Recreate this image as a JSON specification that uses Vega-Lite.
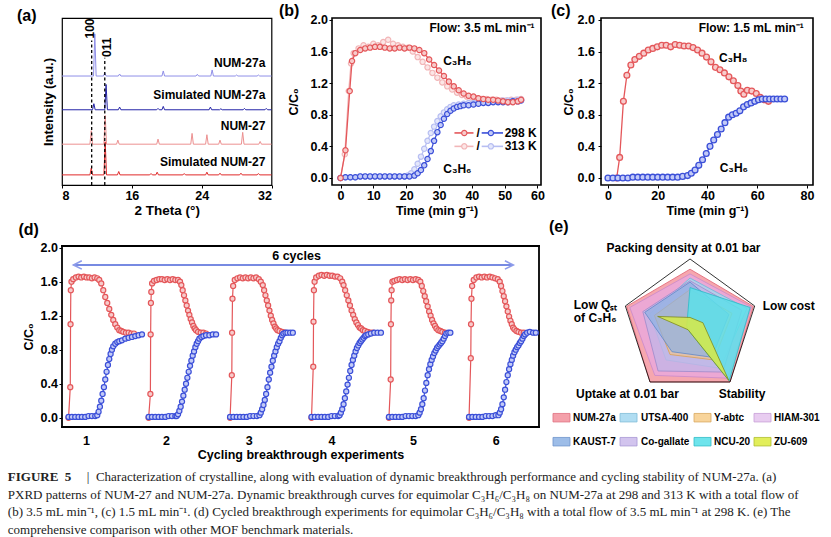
{
  "$schema": "https://vega.github.io/schema/vega-lite/v6.json",
  "background": "white",
  "padding": {"left": 7, "top": 2, "right": 0, "bottom": 0},
  "columns": 3,
  "bounds": "flush",
  "spacing": {"row": 61, "column": 60},
  "datasets": {
    "xrd": [
      {"pattern":"NUM-27a","theta":8,"intensity":323},{"pattern":"NUM-27a","theta":11.61,"intensity":323},{"pattern":"NUM-27a","theta":11.76,"intensity":448},{"pattern":"NUM-27a","theta":11.91,"intensity":323},
      {"pattern":"NUM-27a","theta":12.75,"intensity":323},{"pattern":"NUM-27a","theta":12.9,"intensity":333},{"pattern":"NUM-27a","theta":13.05,"intensity":323},
      {"pattern":"NUM-27a","theta":14.45,"intensity":323},{"pattern":"NUM-27a","theta":14.6,"intensity":329},{"pattern":"NUM-27a","theta":14.75,"intensity":323},
      {"pattern":"NUM-27a","theta":19.45,"intensity":323},{"pattern":"NUM-27a","theta":19.6,"intensity":338},{"pattern":"NUM-27a","theta":19.75,"intensity":323},
      {"pattern":"NUM-27a","theta":23.35,"intensity":323},{"pattern":"NUM-27a","theta":23.5,"intensity":328},{"pattern":"NUM-27a","theta":23.65,"intensity":323},
      {"pattern":"NUM-27a","theta":25.05,"intensity":323},{"pattern":"NUM-27a","theta":25.2,"intensity":341},{"pattern":"NUM-27a","theta":25.35,"intensity":323},
      {"pattern":"NUM-27a","theta":27.85,"intensity":323},{"pattern":"NUM-27a","theta":28,"intensity":326},{"pattern":"NUM-27a","theta":28.15,"intensity":323},
      {"pattern":"NUM-27a","theta":30.35,"intensity":323},{"pattern":"NUM-27a","theta":30.5,"intensity":326},{"pattern":"NUM-27a","theta":30.65,"intensity":323},
      {"pattern":"NUM-27a","theta":32,"intensity":323},
      {"pattern":"Simulated NUM-27a","theta":8,"intensity":223},{"pattern":"Simulated NUM-27a","theta":11.5,"intensity":223},{"pattern":"Simulated NUM-27a","theta":11.65,"intensity":241},{"pattern":"Simulated NUM-27a","theta":11.8,"intensity":223},
      {"pattern":"Simulated NUM-27a","theta":12.9,"intensity":223},{"pattern":"Simulated NUM-27a","theta":13.05,"intensity":298},{"pattern":"Simulated NUM-27a","theta":13.2,"intensity":223},
      {"pattern":"Simulated NUM-27a","theta":14.45,"intensity":223},{"pattern":"Simulated NUM-27a","theta":14.6,"intensity":231},{"pattern":"Simulated NUM-27a","theta":14.75,"intensity":223},
      {"pattern":"Simulated NUM-27a","theta":18.85,"intensity":223},{"pattern":"Simulated NUM-27a","theta":19,"intensity":227},{"pattern":"Simulated NUM-27a","theta":19.15,"intensity":223},
      {"pattern":"Simulated NUM-27a","theta":19.45,"intensity":223},{"pattern":"Simulated NUM-27a","theta":19.6,"intensity":233},{"pattern":"Simulated NUM-27a","theta":19.75,"intensity":223},
      {"pattern":"Simulated NUM-27a","theta":24.85,"intensity":223},{"pattern":"Simulated NUM-27a","theta":25,"intensity":231},{"pattern":"Simulated NUM-27a","theta":25.15,"intensity":223},
      {"pattern":"Simulated NUM-27a","theta":26.05,"intensity":223},{"pattern":"Simulated NUM-27a","theta":26.2,"intensity":226},{"pattern":"Simulated NUM-27a","theta":26.35,"intensity":223},
      {"pattern":"Simulated NUM-27a","theta":28.75,"intensity":223},{"pattern":"Simulated NUM-27a","theta":28.9,"intensity":227},{"pattern":"Simulated NUM-27a","theta":29.05,"intensity":223},
      {"pattern":"Simulated NUM-27a","theta":31.25,"intensity":223},{"pattern":"Simulated NUM-27a","theta":31.4,"intensity":227},{"pattern":"Simulated NUM-27a","theta":31.55,"intensity":223},
      {"pattern":"Simulated NUM-27a","theta":32,"intensity":223},
      {"pattern":"NUM-27","theta":8,"intensity":121},{"pattern":"NUM-27","theta":11.2,"intensity":121},{"pattern":"NUM-27","theta":11.35,"intensity":161},{"pattern":"NUM-27","theta":11.5,"intensity":121},
      {"pattern":"NUM-27","theta":12.8,"intensity":121},{"pattern":"NUM-27","theta":12.95,"intensity":206},{"pattern":"NUM-27","theta":13.1,"intensity":121},
      {"pattern":"NUM-27","theta":14.25,"intensity":121},{"pattern":"NUM-27","theta":14.4,"intensity":133},{"pattern":"NUM-27","theta":14.55,"intensity":121},
      {"pattern":"NUM-27","theta":18.85,"intensity":121},{"pattern":"NUM-27","theta":19,"intensity":136},{"pattern":"NUM-27","theta":19.15,"intensity":121},
      {"pattern":"NUM-27","theta":22.75,"intensity":121},{"pattern":"NUM-27","theta":22.9,"intensity":153},{"pattern":"NUM-27","theta":23.05,"intensity":121},
      {"pattern":"NUM-27","theta":24.45,"intensity":121},{"pattern":"NUM-27","theta":24.6,"intensity":149},{"pattern":"NUM-27","theta":24.75,"intensity":121},
      {"pattern":"NUM-27","theta":25.95,"intensity":121},{"pattern":"NUM-27","theta":26.1,"intensity":133},{"pattern":"NUM-27","theta":26.25,"intensity":121},
      {"pattern":"NUM-27","theta":28.55,"intensity":121},{"pattern":"NUM-27","theta":28.7,"intensity":156},{"pattern":"NUM-27","theta":28.85,"intensity":121},
      {"pattern":"NUM-27","theta":30.55,"intensity":121},{"pattern":"NUM-27","theta":30.7,"intensity":129},{"pattern":"NUM-27","theta":30.85,"intensity":121},
      {"pattern":"NUM-27","theta":32,"intensity":121},
      {"pattern":"Simulated NUM-27","theta":8,"intensity":30},{"pattern":"Simulated NUM-27","theta":11.2,"intensity":30},{"pattern":"Simulated NUM-27","theta":11.35,"intensity":50},{"pattern":"Simulated NUM-27","theta":11.5,"intensity":30},
      {"pattern":"Simulated NUM-27","theta":12.8,"intensity":30},{"pattern":"Simulated NUM-27","theta":12.95,"intensity":128},{"pattern":"Simulated NUM-27","theta":13.1,"intensity":30},
      {"pattern":"Simulated NUM-27","theta":14.35,"intensity":30},{"pattern":"Simulated NUM-27","theta":14.5,"intensity":40},{"pattern":"Simulated NUM-27","theta":14.65,"intensity":30},
      {"pattern":"Simulated NUM-27","theta":18.05,"intensity":30},{"pattern":"Simulated NUM-27","theta":18.2,"intensity":34},{"pattern":"Simulated NUM-27","theta":18.35,"intensity":30},
      {"pattern":"Simulated NUM-27","theta":18.75,"intensity":30},{"pattern":"Simulated NUM-27","theta":18.9,"intensity":38},{"pattern":"Simulated NUM-27","theta":19.05,"intensity":30},
      {"pattern":"Simulated NUM-27","theta":21.85,"intensity":30},{"pattern":"Simulated NUM-27","theta":22,"intensity":34},{"pattern":"Simulated NUM-27","theta":22.15,"intensity":30},
      {"pattern":"Simulated NUM-27","theta":24.45,"intensity":30},{"pattern":"Simulated NUM-27","theta":24.6,"intensity":38},{"pattern":"Simulated NUM-27","theta":24.75,"intensity":30},
      {"pattern":"Simulated NUM-27","theta":25.95,"intensity":30},{"pattern":"Simulated NUM-27","theta":26.1,"intensity":35},{"pattern":"Simulated NUM-27","theta":26.25,"intensity":30},
      {"pattern":"Simulated NUM-27","theta":28.35,"intensity":30},{"pattern":"Simulated NUM-27","theta":28.5,"intensity":35},{"pattern":"Simulated NUM-27","theta":28.65,"intensity":30},
      {"pattern":"Simulated NUM-27","theta":30.35,"intensity":30},{"pattern":"Simulated NUM-27","theta":30.5,"intensity":34},{"pattern":"Simulated NUM-27","theta":30.65,"intensity":30},
      {"pattern":"Simulated NUM-27","theta":32,"intensity":30}
    ],
    "xrdRef": [
      {"theta": 11.4, "intensity": 0, "top": 428},
      {"theta": 12.9, "intensity": 0, "top": 377}
    ],
    "hkl": [
      {"theta": 11.26, "intensity": 464, "label": "100"},
      {"theta": 13.14, "intensity": 408, "label": "011"}
    ],
    "xrdNames": [
      {"theta": 31.3, "intensity": 363, "label": "NUM-27a"},
      {"theta": 31.3, "intensity": 268, "label": "Simulated NUM-27a"},
      {"theta": 31.3, "intensity": 176, "label": "NUM-27"},
      {"theta": 31.3, "intensity": 68, "label": "Simulated NUM-27"}
    ],
    "flow35": [
      {"series":"C3H8-313","t":0,"c":0},{"series":"C3H8-313","t":1.3,"c":0.3},{"series":"C3H8-313","t":2.5,"c":1.1},{"series":"C3H8-313","t":3.2,"c":1.45},{"series":"C3H8-313","t":4,"c":1.58},{"series":"C3H8-313","t":5.5,"c":1.64},{"series":"C3H8-313","t":7,"c":1.68},{"series":"C3H8-313","t":8.5,"c":1.66},{"series":"C3H8-313","t":10,"c":1.7},{"series":"C3H8-313","t":11.5,"c":1.68},{"series":"C3H8-313","t":13,"c":1.72},{"series":"C3H8-313","t":14.5,"c":1.75},{"series":"C3H8-313","t":16,"c":1.7},{"series":"C3H8-313","t":17.5,"c":1.68},{"series":"C3H8-313","t":19,"c":1.66},{"series":"C3H8-313","t":20.5,"c":1.65},{"series":"C3H8-313","t":22,"c":1.6},{"series":"C3H8-313","t":23.5,"c":1.53},{"series":"C3H8-313","t":25,"c":1.47},{"series":"C3H8-313","t":26.5,"c":1.4},{"series":"C3H8-313","t":28,"c":1.33},{"series":"C3H8-313","t":29.5,"c":1.27},{"series":"C3H8-313","t":31,"c":1.21},{"series":"C3H8-313","t":32.5,"c":1.16},{"series":"C3H8-313","t":34,"c":1.12},{"series":"C3H8-313","t":35.5,"c":1.08},{"series":"C3H8-313","t":37,"c":1.05},{"series":"C3H8-313","t":38.5,"c":1.03},{"series":"C3H8-313","t":40,"c":1.02},{"series":"C3H8-313","t":41.5,"c":1.01},{"series":"C3H8-313","t":43,"c":1},{"series":"C3H8-313","t":44.5,"c":1},{"series":"C3H8-313","t":46,"c":0.99},{"series":"C3H8-313","t":47.5,"c":0.99},{"series":"C3H8-313","t":49,"c":0.98},{"series":"C3H8-313","t":50.5,"c":0.98},{"series":"C3H8-313","t":52,"c":0.99},{"series":"C3H8-313","t":53.5,"c":0.99},{"series":"C3H8-313","t":55,"c":1},
      {"series":"C3H6-313","t":0,"c":0},{"series":"C3H6-313","t":1.5,"c":0.01},{"series":"C3H6-313","t":3,"c":0.01},{"series":"C3H6-313","t":4.5,"c":0.01},{"series":"C3H6-313","t":6,"c":0.02},{"series":"C3H6-313","t":7.5,"c":0.02},{"series":"C3H6-313","t":9,"c":0.02},{"series":"C3H6-313","t":10.5,"c":0.02},{"series":"C3H6-313","t":12,"c":0.02},{"series":"C3H6-313","t":13.5,"c":0.02},{"series":"C3H6-313","t":15,"c":0.02},{"series":"C3H6-313","t":16.5,"c":0.02},{"series":"C3H6-313","t":18,"c":0.02},{"series":"C3H6-313","t":19.5,"c":0.02},{"series":"C3H6-313","t":20.5,"c":0.03},{"series":"C3H6-313","t":21.5,"c":0.06},{"series":"C3H6-313","t":22.5,"c":0.11},{"series":"C3H6-313","t":23.5,"c":0.18},{"series":"C3H6-313","t":24.5,"c":0.27},{"series":"C3H6-313","t":25.5,"c":0.37},{"series":"C3H6-313","t":26.5,"c":0.47},{"series":"C3H6-313","t":27.5,"c":0.57},{"series":"C3H6-313","t":28.5,"c":0.65},{"series":"C3H6-313","t":29.5,"c":0.72},{"series":"C3H6-313","t":30.5,"c":0.78},{"series":"C3H6-313","t":31.5,"c":0.83},{"series":"C3H6-313","t":32.5,"c":0.87},{"series":"C3H6-313","t":33.5,"c":0.9},{"series":"C3H6-313","t":34.5,"c":0.92},{"series":"C3H6-313","t":36,"c":0.93},{"series":"C3H6-313","t":37.5,"c":0.94},{"series":"C3H6-313","t":39,"c":0.95},{"series":"C3H6-313","t":40.5,"c":0.95},{"series":"C3H6-313","t":42,"c":0.96},{"series":"C3H6-313","t":43.5,"c":0.96},{"series":"C3H6-313","t":45,"c":0.97},{"series":"C3H6-313","t":46.5,"c":0.97},{"series":"C3H6-313","t":48,"c":0.97},{"series":"C3H6-313","t":49.5,"c":0.98},{"series":"C3H6-313","t":51,"c":0.98},{"series":"C3H6-313","t":52.5,"c":0.98},{"series":"C3H6-313","t":54,"c":0.99},{"series":"C3H6-313","t":55,"c":0.99},
      {"series":"C3H6-298","t":0,"c":0},{"series":"C3H6-298","t":1.5,"c":0.01},{"series":"C3H6-298","t":3,"c":0.01},{"series":"C3H6-298","t":4.5,"c":0.01},{"series":"C3H6-298","t":6,"c":0.02},{"series":"C3H6-298","t":7.5,"c":0.02},{"series":"C3H6-298","t":9,"c":0.02},{"series":"C3H6-298","t":10.5,"c":0.02},{"series":"C3H6-298","t":12,"c":0.02},{"series":"C3H6-298","t":13.5,"c":0.02},{"series":"C3H6-298","t":15,"c":0.02},{"series":"C3H6-298","t":16.5,"c":0.02},{"series":"C3H6-298","t":18,"c":0.02},{"series":"C3H6-298","t":19.5,"c":0.02},{"series":"C3H6-298","t":21,"c":0.02},{"series":"C3H6-298","t":22.5,"c":0.03},{"series":"C3H6-298","t":23.5,"c":0.06},{"series":"C3H6-298","t":24.5,"c":0.1},{"series":"C3H6-298","t":25.5,"c":0.16},{"series":"C3H6-298","t":26.5,"c":0.24},{"series":"C3H6-298","t":27.5,"c":0.34},{"series":"C3H6-298","t":28.5,"c":0.47},{"series":"C3H6-298","t":29.5,"c":0.58},{"series":"C3H6-298","t":30.5,"c":0.67},{"series":"C3H6-298","t":31.5,"c":0.75},{"series":"C3H6-298","t":32.5,"c":0.81},{"series":"C3H6-298","t":33.5,"c":0.85},{"series":"C3H6-298","t":34.5,"c":0.88},{"series":"C3H6-298","t":35.5,"c":0.9},{"series":"C3H6-298","t":36.5,"c":0.91},{"series":"C3H6-298","t":37.5,"c":0.92},{"series":"C3H6-298","t":39,"c":0.92},{"series":"C3H6-298","t":40.5,"c":0.93},{"series":"C3H6-298","t":42,"c":0.94},{"series":"C3H6-298","t":43.5,"c":0.95},{"series":"C3H6-298","t":45,"c":0.95},{"series":"C3H6-298","t":46.5,"c":0.96},{"series":"C3H6-298","t":48,"c":0.96},{"series":"C3H6-298","t":49.5,"c":0.96},{"series":"C3H6-298","t":51,"c":0.96},{"series":"C3H6-298","t":52.5,"c":0.97},{"series":"C3H6-298","t":54,"c":0.97},{"series":"C3H6-298","t":55,"c":0.98},
      {"series":"C3H8-298","t":0,"c":0},{"series":"C3H8-298","t":1.5,"c":0.35},{"series":"C3H8-298","t":2.8,"c":1.1},{"series":"C3H8-298","t":3.5,"c":1.48},{"series":"C3H8-298","t":4.5,"c":1.58},{"series":"C3H8-298","t":6,"c":1.62},{"series":"C3H8-298","t":7.5,"c":1.64},{"series":"C3H8-298","t":9,"c":1.65},{"series":"C3H8-298","t":10.5,"c":1.66},{"series":"C3H8-298","t":12,"c":1.66},{"series":"C3H8-298","t":13.5,"c":1.65},{"series":"C3H8-298","t":15,"c":1.64},{"series":"C3H8-298","t":16.5,"c":1.64},{"series":"C3H8-298","t":18,"c":1.65},{"series":"C3H8-298","t":19.5,"c":1.64},{"series":"C3H8-298","t":21,"c":1.65},{"series":"C3H8-298","t":22.5,"c":1.64},{"series":"C3H8-298","t":24,"c":1.62},{"series":"C3H8-298","t":25.5,"c":1.58},{"series":"C3H8-298","t":27,"c":1.5},{"series":"C3H8-298","t":28.5,"c":1.43},{"series":"C3H8-298","t":30,"c":1.36},{"series":"C3H8-298","t":31.5,"c":1.29},{"series":"C3H8-298","t":33,"c":1.22},{"series":"C3H8-298","t":34.5,"c":1.16},{"series":"C3H8-298","t":36,"c":1.11},{"series":"C3H8-298","t":37.5,"c":1.07},{"series":"C3H8-298","t":39,"c":1.04},{"series":"C3H8-298","t":40.5,"c":1.03},{"series":"C3H8-298","t":42,"c":1.01},{"series":"C3H8-298","t":43.5,"c":1},{"series":"C3H8-298","t":45,"c":0.99},{"series":"C3H8-298","t":46.5,"c":0.99},{"series":"C3H8-298","t":48,"c":0.98},{"series":"C3H8-298","t":49.5,"c":0.97},{"series":"C3H8-298","t":51,"c":0.96},{"series":"C3H8-298","t":52.5,"c":0.96},{"series":"C3H8-298","t":54,"c":0.97},{"series":"C3H8-298","t":55,"c":0.99}
    ],
    "flow35Seg": [
      {"series":"C3H8-298","t":34.7,"t2":40.5,"c":0.57},
      {"series":"C3H6-298","t":43.0,"t2":49.5,"c":0.57},
      {"series":"C3H8-313","t":34.7,"t2":40.5,"c":0.4},
      {"series":"C3H6-313","t":43.0,"t2":49.5,"c":0.4}
    ],
    "flow35Dot": [
      {"series":"C3H8-298","t":37.7,"c":0.57},
      {"series":"C3H6-298","t":45.8,"c":0.57},
      {"series":"C3H8-313","t":37.7,"c":0.4},
      {"series":"C3H6-313","t":45.8,"c":0.4}
    ],
    "flow15": [
      {"series":"C3H8","t":3.5,"c":0},{"series":"C3H8","t":4.7,"c":0.26},{"series":"C3H8","t":6.2,"c":0.97},{"series":"C3H8","t":7.6,"c":1.3},{"series":"C3H8","t":9.2,"c":1.43},{"series":"C3H8","t":10.8,"c":1.5},{"series":"C3H8","t":12.6,"c":1.54},{"series":"C3H8","t":14.4,"c":1.58},{"series":"C3H8","t":16.2,"c":1.62},{"series":"C3H8","t":18,"c":1.64},{"series":"C3H8","t":19.8,"c":1.66},{"series":"C3H8","t":21.6,"c":1.68},{"series":"C3H8","t":23.4,"c":1.68},{"series":"C3H8","t":25.2,"c":1.66},{"series":"C3H8","t":27,"c":1.69},{"series":"C3H8","t":28.8,"c":1.68},{"series":"C3H8","t":30.6,"c":1.67},{"series":"C3H8","t":32.4,"c":1.67},{"series":"C3H8","t":34.2,"c":1.65},{"series":"C3H8","t":36,"c":1.62},{"series":"C3H8","t":37.8,"c":1.58},{"series":"C3H8","t":39.6,"c":1.53},{"series":"C3H8","t":41.4,"c":1.47},{"series":"C3H8","t":43.2,"c":1.4},{"series":"C3H8","t":45,"c":1.37},{"series":"C3H8","t":46.8,"c":1.33},{"series":"C3H8","t":48.6,"c":1.28},{"series":"C3H8","t":50.4,"c":1.23},{"series":"C3H8","t":52.2,"c":1.17},{"series":"C3H8","t":53.4,"c":1.1},{"series":"C3H8","t":54.6,"c":1.06},{"series":"C3H8","t":56,"c":1.11},{"series":"C3H8","t":57.8,"c":1.1},{"series":"C3H8","t":59.6,"c":1.07},{"series":"C3H8","t":61.2,"c":1.02},{"series":"C3H8","t":63,"c":0.99},{"series":"C3H8","t":64.5,"c":0.97},
      {"series":"C3H6","t":0,"c":0},{"series":"C3H6","t":2,"c":0},{"series":"C3H6","t":4,"c":0},{"series":"C3H6","t":6,"c":0},{"series":"C3H6","t":8,"c":0},{"series":"C3H6","t":10,"c":0.01},{"series":"C3H6","t":12,"c":0.01},{"series":"C3H6","t":14,"c":0.01},{"series":"C3H6","t":16,"c":0.01},{"series":"C3H6","t":18,"c":0.01},{"series":"C3H6","t":20,"c":0.01},{"series":"C3H6","t":22,"c":0.01},{"series":"C3H6","t":24,"c":0.01},{"series":"C3H6","t":26,"c":0.01},{"series":"C3H6","t":28,"c":0.01},{"series":"C3H6","t":30,"c":0.02},{"series":"C3H6","t":32,"c":0.03},{"series":"C3H6","t":33.5,"c":0.06},{"series":"C3H6","t":35,"c":0.1},{"series":"C3H6","t":36.5,"c":0.16},{"series":"C3H6","t":38,"c":0.23},{"series":"C3H6","t":39.5,"c":0.31},{"series":"C3H6","t":41,"c":0.4},{"series":"C3H6","t":42.5,"c":0.48},{"series":"C3H6","t":44,"c":0.55},{"series":"C3H6","t":45.5,"c":0.62},{"series":"C3H6","t":47,"c":0.7},{"series":"C3H6","t":48.5,"c":0.77},{"series":"C3H6","t":50,"c":0.8},{"series":"C3H6","t":51.5,"c":0.82},{"series":"C3H6","t":53,"c":0.85},{"series":"C3H6","t":54.5,"c":0.9},{"series":"C3H6","t":56,"c":0.93},{"series":"C3H6","t":57.5,"c":0.95},{"series":"C3H6","t":59,"c":0.97},{"series":"C3H6","t":60.5,"c":0.99},{"series":"C3H6","t":62,"c":1},{"series":"C3H6","t":63.5,"c":1},{"series":"C3H6","t":65,"c":1},{"series":"C3H6","t":66.5,"c":1},{"series":"C3H6","t":68,"c":1},{"series":"C3H6","t":69.5,"c":1},{"series":"C3H6","t":71,"c":1}
    ],
    "cycles": [
      {"run":1,"gas":"C3H8","t":0,"c":0},{"run":1,"gas":"C3H8","t":1.3,"c":0.36},{"run":1,"gas":"C3H8","t":1.5,"c":1.1},{"run":1,"gas":"C3H8","t":1.7,"c":1.5},{"run":1,"gas":"C3H8","t":2.2,"c":1.6},{"run":1,"gas":"C3H8","t":3.5,"c":1.63},{"run":1,"gas":"C3H8","t":5.5,"c":1.65},{"run":1,"gas":"C3H8","t":7.5,"c":1.66},{"run":1,"gas":"C3H8","t":9.5,"c":1.65},{"run":1,"gas":"C3H8","t":11.5,"c":1.66},{"run":1,"gas":"C3H8","t":13.5,"c":1.65},{"run":1,"gas":"C3H8","t":15.5,"c":1.65},{"run":1,"gas":"C3H8","t":17.5,"c":1.64},{"run":1,"gas":"C3H8","t":19.5,"c":1.65},{"run":1,"gas":"C3H8","t":21.5,"c":1.64},{"run":1,"gas":"C3H8","t":23,"c":1.62},{"run":1,"gas":"C3H8","t":24.5,"c":1.58},{"run":1,"gas":"C3H8","t":26,"c":1.5},{"run":1,"gas":"C3H8","t":27.5,"c":1.42},{"run":1,"gas":"C3H8","t":29,"c":1.35},{"run":1,"gas":"C3H8","t":30.5,"c":1.28},{"run":1,"gas":"C3H8","t":32,"c":1.21},{"run":1,"gas":"C3H8","t":33.5,"c":1.15},{"run":1,"gas":"C3H8","t":35,"c":1.1},{"run":1,"gas":"C3H8","t":36.5,"c":1.06},{"run":1,"gas":"C3H8","t":38,"c":1.03},{"run":1,"gas":"C3H8","t":39.5,"c":1.02},{"run":1,"gas":"C3H8","t":41,"c":1.01},{"run":1,"gas":"C3H8","t":43,"c":1},{"run":1,"gas":"C3H8","t":45,"c":1},{"run":1,"gas":"C3H8","t":47,"c":0.99},{"run":1,"gas":"C3H8","t":49,"c":0.99},
      {"run":1,"gas":"C3H6","t":0,"c":0.01},{"run":1,"gas":"C3H6","t":2.5,"c":0.01},{"run":1,"gas":"C3H6","t":5,"c":0.01},{"run":1,"gas":"C3H6","t":7.5,"c":0.01},{"run":1,"gas":"C3H6","t":10,"c":0.01},{"run":1,"gas":"C3H6","t":12.5,"c":0.01},{"run":1,"gas":"C3H6","t":15,"c":0.02},{"run":1,"gas":"C3H6","t":17.5,"c":0.02},{"run":1,"gas":"C3H6","t":20,"c":0.02},{"run":1,"gas":"C3H6","t":21.5,"c":0.03},{"run":1,"gas":"C3H6","t":22.5,"c":0.07},{"run":1,"gas":"C3H6","t":23.5,"c":0.13},{"run":1,"gas":"C3H6","t":24.5,"c":0.2},{"run":1,"gas":"C3H6","t":25.5,"c":0.28},{"run":1,"gas":"C3H6","t":26.5,"c":0.36},{"run":1,"gas":"C3H6","t":27.5,"c":0.45},{"run":1,"gas":"C3H6","t":28.5,"c":0.54},{"run":1,"gas":"C3H6","t":29.5,"c":0.62},{"run":1,"gas":"C3H6","t":30.5,"c":0.69},{"run":1,"gas":"C3H6","t":31.5,"c":0.75},{"run":1,"gas":"C3H6","t":32.5,"c":0.8},{"run":1,"gas":"C3H6","t":33.5,"c":0.84},{"run":1,"gas":"C3H6","t":35,"c":0.87},{"run":1,"gas":"C3H6","t":36.5,"c":0.89},{"run":1,"gas":"C3H6","t":38,"c":0.9},{"run":1,"gas":"C3H6","t":40,"c":0.91},{"run":1,"gas":"C3H6","t":42.5,"c":0.93},{"run":1,"gas":"C3H6","t":45,"c":0.94},{"run":1,"gas":"C3H6","t":47.5,"c":0.95},{"run":1,"gas":"C3H6","t":50,"c":0.96},{"run":1,"gas":"C3H6","t":52.5,"c":0.97},{"run":1,"gas":"C3H6","t":55,"c":0.98},
      {"run":2,"gas":"C3H8","t":60,"c":0},{"run":2,"gas":"C3H8","t":61.3,"c":0.28},{"run":2,"gas":"C3H8","t":61.5,"c":0.98},{"run":2,"gas":"C3H8","t":61.7,"c":1.35},{"run":2,"gas":"C3H8","t":62,"c":1.48},{"run":2,"gas":"C3H8","t":62.6,"c":1.58},{"run":2,"gas":"C3H8","t":64,"c":1.61},{"run":2,"gas":"C3H8","t":66,"c":1.62},{"run":2,"gas":"C3H8","t":68,"c":1.63},{"run":2,"gas":"C3H8","t":70,"c":1.63},{"run":2,"gas":"C3H8","t":72,"c":1.62},{"run":2,"gas":"C3H8","t":74,"c":1.63},{"run":2,"gas":"C3H8","t":76,"c":1.62},{"run":2,"gas":"C3H8","t":78,"c":1.63},{"run":2,"gas":"C3H8","t":80,"c":1.62},{"run":2,"gas":"C3H8","t":82,"c":1.62},{"run":2,"gas":"C3H8","t":83.5,"c":1.6},{"run":2,"gas":"C3H8","t":84.5,"c":1.56},{"run":2,"gas":"C3H8","t":85.5,"c":1.5},{"run":2,"gas":"C3H8","t":86.5,"c":1.44},{"run":2,"gas":"C3H8","t":87.5,"c":1.38},{"run":2,"gas":"C3H8","t":88.5,"c":1.32},{"run":2,"gas":"C3H8","t":89.5,"c":1.26},{"run":2,"gas":"C3H8","t":90.5,"c":1.21},{"run":2,"gas":"C3H8","t":91.5,"c":1.16},{"run":2,"gas":"C3H8","t":92.5,"c":1.12},{"run":2,"gas":"C3H8","t":93.5,"c":1.08},{"run":2,"gas":"C3H8","t":94.5,"c":1.05},{"run":2,"gas":"C3H8","t":95.5,"c":1.03},{"run":2,"gas":"C3H8","t":97,"c":1.01},{"run":2,"gas":"C3H8","t":99,"c":1},{"run":2,"gas":"C3H8","t":101,"c":1},{"run":2,"gas":"C3H8","t":103,"c":0.99},
      {"run":2,"gas":"C3H6","t":60,"c":0.01},{"run":2,"gas":"C3H6","t":62.5,"c":0.01},{"run":2,"gas":"C3H6","t":65,"c":0.01},{"run":2,"gas":"C3H6","t":67.5,"c":0.01},{"run":2,"gas":"C3H6","t":70,"c":0.01},{"run":2,"gas":"C3H6","t":72.5,"c":0.01},{"run":2,"gas":"C3H6","t":75,"c":0.02},{"run":2,"gas":"C3H6","t":77.5,"c":0.02},{"run":2,"gas":"C3H6","t":80,"c":0.02},{"run":2,"gas":"C3H6","t":81,"c":0.02},{"run":2,"gas":"C3H6","t":82,"c":0.04},{"run":2,"gas":"C3H6","t":83,"c":0.08},{"run":2,"gas":"C3H6","t":84,"c":0.13},{"run":2,"gas":"C3H6","t":85,"c":0.19},{"run":2,"gas":"C3H6","t":86,"c":0.26},{"run":2,"gas":"C3H6","t":87,"c":0.33},{"run":2,"gas":"C3H6","t":88,"c":0.4},{"run":2,"gas":"C3H6","t":89,"c":0.47},{"run":2,"gas":"C3H6","t":90,"c":0.54},{"run":2,"gas":"C3H6","t":91,"c":0.61},{"run":2,"gas":"C3H6","t":92,"c":0.67},{"run":2,"gas":"C3H6","t":93,"c":0.73},{"run":2,"gas":"C3H6","t":94,"c":0.78},{"run":2,"gas":"C3H6","t":95,"c":0.83},{"run":2,"gas":"C3H6","t":96,"c":0.87},{"run":2,"gas":"C3H6","t":97,"c":0.9},{"run":2,"gas":"C3H6","t":98,"c":0.93},{"run":2,"gas":"C3H6","t":99.5,"c":0.95},{"run":2,"gas":"C3H6","t":101,"c":0.96},{"run":2,"gas":"C3H6","t":103,"c":0.97},{"run":2,"gas":"C3H6","t":105.5,"c":0.97},{"run":2,"gas":"C3H6","t":108,"c":0.98},{"run":2,"gas":"C3H6","t":110.5,"c":0.98},
      {"run":3,"gas":"C3H8","t":121,"c":0},{"run":3,"gas":"C3H8","t":122.3,"c":0.5},{"run":3,"gas":"C3H8","t":122.5,"c":1},{"run":3,"gas":"C3H8","t":122.8,"c":1.4},{"run":3,"gas":"C3H8","t":123.3,"c":1.55},{"run":3,"gas":"C3H8","t":124.5,"c":1.62},{"run":3,"gas":"C3H8","t":126.5,"c":1.64},{"run":3,"gas":"C3H8","t":128.5,"c":1.65},{"run":3,"gas":"C3H8","t":130.5,"c":1.64},{"run":3,"gas":"C3H8","t":132.5,"c":1.65},{"run":3,"gas":"C3H8","t":134.5,"c":1.64},{"run":3,"gas":"C3H8","t":136.5,"c":1.65},{"run":3,"gas":"C3H8","t":138.5,"c":1.64},{"run":3,"gas":"C3H8","t":140.5,"c":1.65},{"run":3,"gas":"C3H8","t":142.5,"c":1.63},{"run":3,"gas":"C3H8","t":144,"c":1.6},{"run":3,"gas":"C3H8","t":145.5,"c":1.56},{"run":3,"gas":"C3H8","t":146.5,"c":1.5},{"run":3,"gas":"C3H8","t":147.5,"c":1.44},{"run":3,"gas":"C3H8","t":148.5,"c":1.38},{"run":3,"gas":"C3H8","t":149.5,"c":1.32},{"run":3,"gas":"C3H8","t":150.5,"c":1.26},{"run":3,"gas":"C3H8","t":151.5,"c":1.2},{"run":3,"gas":"C3H8","t":152.5,"c":1.15},{"run":3,"gas":"C3H8","t":153.5,"c":1.11},{"run":3,"gas":"C3H8","t":154.5,"c":1.07},{"run":3,"gas":"C3H8","t":155.5,"c":1.05},{"run":3,"gas":"C3H8","t":156.5,"c":1.03},{"run":3,"gas":"C3H8","t":158,"c":1.02},{"run":3,"gas":"C3H8","t":160,"c":1.01},{"run":3,"gas":"C3H8","t":162,"c":1},
      {"run":3,"gas":"C3H6","t":121,"c":0.01},{"run":3,"gas":"C3H6","t":123.5,"c":0.01},{"run":3,"gas":"C3H6","t":126,"c":0.01},{"run":3,"gas":"C3H6","t":128.5,"c":0.01},{"run":3,"gas":"C3H6","t":131,"c":0.01},{"run":3,"gas":"C3H6","t":133.5,"c":0.01},{"run":3,"gas":"C3H6","t":136,"c":0.02},{"run":3,"gas":"C3H6","t":138.5,"c":0.02},{"run":3,"gas":"C3H6","t":141,"c":0.02},{"run":3,"gas":"C3H6","t":143,"c":0.03},{"run":3,"gas":"C3H6","t":144,"c":0.06},{"run":3,"gas":"C3H6","t":145,"c":0.1},{"run":3,"gas":"C3H6","t":146,"c":0.15},{"run":3,"gas":"C3H6","t":147,"c":0.21},{"run":3,"gas":"C3H6","t":148,"c":0.28},{"run":3,"gas":"C3H6","t":149,"c":0.36},{"run":3,"gas":"C3H6","t":150,"c":0.45},{"run":3,"gas":"C3H6","t":151,"c":0.53},{"run":3,"gas":"C3H6","t":152,"c":0.6},{"run":3,"gas":"C3H6","t":153,"c":0.67},{"run":3,"gas":"C3H6","t":154,"c":0.73},{"run":3,"gas":"C3H6","t":155,"c":0.78},{"run":3,"gas":"C3H6","t":156,"c":0.83},{"run":3,"gas":"C3H6","t":157,"c":0.87},{"run":3,"gas":"C3H6","t":158,"c":0.9},{"run":3,"gas":"C3H6","t":159,"c":0.94},{"run":3,"gas":"C3H6","t":160,"c":0.97},{"run":3,"gas":"C3H6","t":161,"c":0.99},{"run":3,"gas":"C3H6","t":162.5,"c":1},{"run":3,"gas":"C3H6","t":164,"c":1},{"run":3,"gas":"C3H6","t":166,"c":1},{"run":3,"gas":"C3H6","t":168,"c":1},
      {"run":4,"gas":"C3H8","t":182,"c":0},{"run":4,"gas":"C3H8","t":183.3,"c":0.6},{"run":4,"gas":"C3H8","t":183.5,"c":1.13},{"run":4,"gas":"C3H8","t":183.8,"c":1.5},{"run":4,"gas":"C3H8","t":184.3,"c":1.6},{"run":4,"gas":"C3H8","t":185.5,"c":1.65},{"run":4,"gas":"C3H8","t":187.5,"c":1.67},{"run":4,"gas":"C3H8","t":189.5,"c":1.68},{"run":4,"gas":"C3H8","t":191.5,"c":1.67},{"run":4,"gas":"C3H8","t":193.5,"c":1.68},{"run":4,"gas":"C3H8","t":195.5,"c":1.67},{"run":4,"gas":"C3H8","t":197.5,"c":1.67},{"run":4,"gas":"C3H8","t":199.5,"c":1.66},{"run":4,"gas":"C3H8","t":201.5,"c":1.66},{"run":4,"gas":"C3H8","t":203.5,"c":1.64},{"run":4,"gas":"C3H8","t":205,"c":1.6},{"run":4,"gas":"C3H8","t":206,"c":1.56},{"run":4,"gas":"C3H8","t":207.2,"c":1.5},{"run":4,"gas":"C3H8","t":208.4,"c":1.44},{"run":4,"gas":"C3H8","t":209.6,"c":1.38},{"run":4,"gas":"C3H8","t":210.8,"c":1.32},{"run":4,"gas":"C3H8","t":212,"c":1.26},{"run":4,"gas":"C3H8","t":213.2,"c":1.21},{"run":4,"gas":"C3H8","t":214.4,"c":1.16},{"run":4,"gas":"C3H8","t":215.6,"c":1.12},{"run":4,"gas":"C3H8","t":216.8,"c":1.09},{"run":4,"gas":"C3H8","t":218,"c":1.06},{"run":4,"gas":"C3H8","t":219.2,"c":1.05},{"run":4,"gas":"C3H8","t":220.5,"c":1.03},{"run":4,"gas":"C3H8","t":222,"c":1.02},{"run":4,"gas":"C3H8","t":224,"c":1.01},{"run":4,"gas":"C3H8","t":226,"c":1},{"run":4,"gas":"C3H8","t":228,"c":1},
      {"run":4,"gas":"C3H6","t":182,"c":0.01},{"run":4,"gas":"C3H6","t":184.5,"c":0.01},{"run":4,"gas":"C3H6","t":187,"c":0.01},{"run":4,"gas":"C3H6","t":189.5,"c":0.01},{"run":4,"gas":"C3H6","t":192,"c":0.01},{"run":4,"gas":"C3H6","t":194.5,"c":0.01},{"run":4,"gas":"C3H6","t":197,"c":0.02},{"run":4,"gas":"C3H6","t":199.5,"c":0.02},{"run":4,"gas":"C3H6","t":202,"c":0.02},{"run":4,"gas":"C3H6","t":203,"c":0.03},{"run":4,"gas":"C3H6","t":204,"c":0.06},{"run":4,"gas":"C3H6","t":205,"c":0.1},{"run":4,"gas":"C3H6","t":206,"c":0.16},{"run":4,"gas":"C3H6","t":207,"c":0.23},{"run":4,"gas":"C3H6","t":208,"c":0.31},{"run":4,"gas":"C3H6","t":209,"c":0.39},{"run":4,"gas":"C3H6","t":210,"c":0.47},{"run":4,"gas":"C3H6","t":211,"c":0.55},{"run":4,"gas":"C3H6","t":212,"c":0.62},{"run":4,"gas":"C3H6","t":213,"c":0.68},{"run":4,"gas":"C3H6","t":214,"c":0.73},{"run":4,"gas":"C3H6","t":215,"c":0.78},{"run":4,"gas":"C3H6","t":216,"c":0.82},{"run":4,"gas":"C3H6","t":217,"c":0.85},{"run":4,"gas":"C3H6","t":218,"c":0.88},{"run":4,"gas":"C3H6","t":219,"c":0.9},{"run":4,"gas":"C3H6","t":220,"c":0.92},{"run":4,"gas":"C3H6","t":221,"c":0.94},{"run":4,"gas":"C3H6","t":222,"c":0.96},{"run":4,"gas":"C3H6","t":223,"c":0.97},{"run":4,"gas":"C3H6","t":224.5,"c":0.98},{"run":4,"gas":"C3H6","t":226.5,"c":0.99},{"run":4,"gas":"C3H6","t":229,"c":1},{"run":4,"gas":"C3H6","t":231.5,"c":1},{"run":4,"gas":"C3H6","t":234,"c":1},
      {"run":5,"gas":"C3H8","t":240,"c":0},{"run":5,"gas":"C3H8","t":241.3,"c":0.45},{"run":5,"gas":"C3H8","t":241.5,"c":1.1},{"run":5,"gas":"C3H8","t":241.7,"c":1.38},{"run":5,"gas":"C3H8","t":242,"c":1.5},{"run":5,"gas":"C3H8","t":242.6,"c":1.6},{"run":5,"gas":"C3H8","t":244,"c":1.61},{"run":5,"gas":"C3H8","t":246,"c":1.62},{"run":5,"gas":"C3H8","t":248,"c":1.63},{"run":5,"gas":"C3H8","t":250,"c":1.62},{"run":5,"gas":"C3H8","t":252,"c":1.63},{"run":5,"gas":"C3H8","t":254,"c":1.62},{"run":5,"gas":"C3H8","t":256,"c":1.63},{"run":5,"gas":"C3H8","t":258,"c":1.62},{"run":5,"gas":"C3H8","t":260,"c":1.63},{"run":5,"gas":"C3H8","t":262,"c":1.62},{"run":5,"gas":"C3H8","t":263.5,"c":1.6},{"run":5,"gas":"C3H8","t":264.6,"c":1.55},{"run":5,"gas":"C3H8","t":265.7,"c":1.49},{"run":5,"gas":"C3H8","t":266.8,"c":1.43},{"run":5,"gas":"C3H8","t":267.9,"c":1.37},{"run":5,"gas":"C3H8","t":269,"c":1.31},{"run":5,"gas":"C3H8","t":270.1,"c":1.25},{"run":5,"gas":"C3H8","t":271.2,"c":1.2},{"run":5,"gas":"C3H8","t":272.3,"c":1.15},{"run":5,"gas":"C3H8","t":273.4,"c":1.11},{"run":5,"gas":"C3H8","t":274.5,"c":1.08},{"run":5,"gas":"C3H8","t":275.6,"c":1.05},{"run":5,"gas":"C3H8","t":277,"c":1.03},{"run":5,"gas":"C3H8","t":278.5,"c":1.02},{"run":5,"gas":"C3H8","t":280,"c":1.01},{"run":5,"gas":"C3H8","t":282,"c":1},
      {"run":5,"gas":"C3H6","t":240,"c":0.01},{"run":5,"gas":"C3H6","t":242.5,"c":0.01},{"run":5,"gas":"C3H6","t":245,"c":0.01},{"run":5,"gas":"C3H6","t":247.5,"c":0.01},{"run":5,"gas":"C3H6","t":250,"c":0.01},{"run":5,"gas":"C3H6","t":252.5,"c":0.02},{"run":5,"gas":"C3H6","t":255,"c":0.02},{"run":5,"gas":"C3H6","t":257.5,"c":0.02},{"run":5,"gas":"C3H6","t":260,"c":0.02},{"run":5,"gas":"C3H6","t":262,"c":0.03},{"run":5,"gas":"C3H6","t":263,"c":0.06},{"run":5,"gas":"C3H6","t":264,"c":0.1},{"run":5,"gas":"C3H6","t":265,"c":0.16},{"run":5,"gas":"C3H6","t":266,"c":0.23},{"run":5,"gas":"C3H6","t":267,"c":0.32},{"run":5,"gas":"C3H6","t":268,"c":0.41},{"run":5,"gas":"C3H6","t":269,"c":0.5},{"run":5,"gas":"C3H6","t":270,"c":0.57},{"run":5,"gas":"C3H6","t":271,"c":0.63},{"run":5,"gas":"C3H6","t":272,"c":0.68},{"run":5,"gas":"C3H6","t":273,"c":0.72},{"run":5,"gas":"C3H6","t":274,"c":0.76},{"run":5,"gas":"C3H6","t":275,"c":0.79},{"run":5,"gas":"C3H6","t":276,"c":0.82},{"run":5,"gas":"C3H6","t":277,"c":0.84},{"run":5,"gas":"C3H6","t":278,"c":0.86},{"run":5,"gas":"C3H6","t":279,"c":0.88},{"run":5,"gas":"C3H6","t":280,"c":0.9},{"run":5,"gas":"C3H6","t":281,"c":0.93},{"run":5,"gas":"C3H6","t":282,"c":0.96},{"run":5,"gas":"C3H6","t":283,"c":0.99},{"run":5,"gas":"C3H6","t":284.5,"c":1},{"run":5,"gas":"C3H6","t":286,"c":1},
      {"run":6,"gas":"C3H8","t":300,"c":0},{"run":6,"gas":"C3H8","t":301.3,"c":0.7},{"run":6,"gas":"C3H8","t":301.5,"c":1.1},{"run":6,"gas":"C3H8","t":301.8,"c":1.4},{"run":6,"gas":"C3H8","t":302.3,"c":1.55},{"run":6,"gas":"C3H8","t":303.5,"c":1.62},{"run":6,"gas":"C3H8","t":305.5,"c":1.65},{"run":6,"gas":"C3H8","t":307.5,"c":1.66},{"run":6,"gas":"C3H8","t":309.5,"c":1.65},{"run":6,"gas":"C3H8","t":311.5,"c":1.66},{"run":6,"gas":"C3H8","t":313.5,"c":1.65},{"run":6,"gas":"C3H8","t":315.5,"c":1.66},{"run":6,"gas":"C3H8","t":317.5,"c":1.65},{"run":6,"gas":"C3H8","t":319.5,"c":1.64},{"run":6,"gas":"C3H8","t":321.5,"c":1.63},{"run":6,"gas":"C3H8","t":323,"c":1.6},{"run":6,"gas":"C3H8","t":324,"c":1.55},{"run":6,"gas":"C3H8","t":325,"c":1.49},{"run":6,"gas":"C3H8","t":326,"c":1.43},{"run":6,"gas":"C3H8","t":327,"c":1.37},{"run":6,"gas":"C3H8","t":328,"c":1.31},{"run":6,"gas":"C3H8","t":329,"c":1.25},{"run":6,"gas":"C3H8","t":330,"c":1.19},{"run":6,"gas":"C3H8","t":331,"c":1.14},{"run":6,"gas":"C3H8","t":332,"c":1.1},{"run":6,"gas":"C3H8","t":333,"c":1.06},{"run":6,"gas":"C3H8","t":334,"c":1.04},{"run":6,"gas":"C3H8","t":335.5,"c":1.02},{"run":6,"gas":"C3H8","t":337,"c":1.01},{"run":6,"gas":"C3H8","t":339,"c":1},{"run":6,"gas":"C3H8","t":341,"c":1},
      {"run":6,"gas":"C3H6","t":300,"c":0.01},{"run":6,"gas":"C3H6","t":302.5,"c":0.01},{"run":6,"gas":"C3H6","t":305,"c":0.01},{"run":6,"gas":"C3H6","t":307.5,"c":0.01},{"run":6,"gas":"C3H6","t":310,"c":0.01},{"run":6,"gas":"C3H6","t":312.5,"c":0.02},{"run":6,"gas":"C3H6","t":315,"c":0.02},{"run":6,"gas":"C3H6","t":317.5,"c":0.02},{"run":6,"gas":"C3H6","t":320,"c":0.03},{"run":6,"gas":"C3H6","t":322,"c":0.03},{"run":6,"gas":"C3H6","t":323,"c":0.06},{"run":6,"gas":"C3H6","t":324,"c":0.1},{"run":6,"gas":"C3H6","t":325,"c":0.16},{"run":6,"gas":"C3H6","t":326,"c":0.24},{"run":6,"gas":"C3H6","t":327,"c":0.33},{"run":6,"gas":"C3H6","t":328,"c":0.42},{"run":6,"gas":"C3H6","t":329,"c":0.5},{"run":6,"gas":"C3H6","t":330,"c":0.57},{"run":6,"gas":"C3H6","t":331,"c":0.63},{"run":6,"gas":"C3H6","t":332,"c":0.68},{"run":6,"gas":"C3H6","t":333,"c":0.73},{"run":6,"gas":"C3H6","t":334,"c":0.77},{"run":6,"gas":"C3H6","t":335,"c":0.8},{"run":6,"gas":"C3H6","t":336,"c":0.83},{"run":6,"gas":"C3H6","t":337,"c":0.85},{"run":6,"gas":"C3H6","t":338,"c":0.88},{"run":6,"gas":"C3H6","t":339,"c":0.9},{"run":6,"gas":"C3H6","t":340,"c":0.93},{"run":6,"gas":"C3H6","t":341,"c":0.96},{"run":6,"gas":"C3H6","t":342,"c":0.98},{"run":6,"gas":"C3H6","t":343.5,"c":1},{"run":6,"gas":"C3H6","t":345.5,"c":1.01},{"run":6,"gas":"C3H6","t":348,"c":1},{"run":6,"gas":"C3H6","t":350,"c":1}
    ],
    "cycFrame": [
      {"t": -4.9, "t2": 352.4, "c": 2.02, "c2": 2.02},
      {"t": 352.4, "t2": 352.4, "c": -0.109, "c2": 2.02},
      {"t": -4.9, "t2": 352.4, "c": -0.109, "c2": -0.109},
      {"t": -4.9, "t2": -4.9, "c": -0.109, "c2": 2.02}
    ],
    "cycArrow": [{"t": 3.8, "t2": 333, "c": 1.797}],
    "cycHeads": [{"t": 6.8, "c": 1.797, "end": "L"}, {"t": 330, "c": 1.797, "end": "R"}],
    "radar": [
      {"material":"NUM-27a","k":0,"x":0,"y":0.85},{"material":"NUM-27a","k":1,"x":0.932,"y":0.303},{"material":"NUM-27a","k":2,"x":0.588,"y":-0.809},{"material":"NUM-27a","k":3,"x":-0.588,"y":-0.809},{"material":"NUM-27a","k":4,"x":-0.932,"y":0.303},
      {"material":"HIAM-301","k":0,"x":0,"y":0.78},{"material":"HIAM-301","k":1,"x":0.904,"y":0.294},{"material":"HIAM-301","k":2,"x":0.547,"y":-0.752},{"material":"HIAM-301","k":3,"x":-0.517,"y":-0.712},{"material":"HIAM-301","k":4,"x":-0.885,"y":0.287},
      {"material":"UTSA-400","k":0,"x":0,"y":0.72},{"material":"UTSA-400","k":1,"x":0.837,"y":0.272},{"material":"UTSA-400","k":2,"x":0.441,"y":-0.607},{"material":"UTSA-400","k":3,"x":-0.353,"y":-0.485},{"material":"UTSA-400","k":4,"x":-0.59,"y":0.192},
      {"material":"Co-gallate","k":0,"x":0,"y":0.68},{"material":"Co-gallate","k":1,"x":0.761,"y":0.247},{"material":"Co-gallate","k":2,"x":0.482,"y":-0.663},{"material":"Co-gallate","k":3,"x":-0.47,"y":-0.647},{"material":"Co-gallate","k":4,"x":-0.694,"y":0.226},
      {"material":"Y-abtc","k":0,"x":0,"y":0.55},{"material":"Y-abtc","k":1,"x":0.618,"y":0.201},{"material":"Y-abtc","k":2,"x":0.353,"y":-0.485},{"material":"Y-abtc","k":3,"x":-0.294,"y":-0.405},{"material":"Y-abtc","k":4,"x":-0.523,"y":0.17},
      {"material":"KAUST-7","k":0,"x":0,"y":0.66},{"material":"KAUST-7","k":1,"x":0.571,"y":0.185},{"material":"KAUST-7","k":2,"x":0.323,"y":-0.445},{"material":"KAUST-7","k":3,"x":-0.265,"y":-0.364},{"material":"KAUST-7","k":4,"x":-0.666,"y":0.216},
      {"material":"NCU-20","k":0,"x":0,"y":0.58},{"material":"NCU-20","k":1,"x":0.885,"y":0.287},{"material":"NCU-20","k":2,"x":0.576,"y":-0.793},{"material":"NCU-20","k":3,"x":-0.029,"y":-0.04},{"material":"NCU-20","k":4,"x":-0.048,"y":0.015},
      {"material":"ZU-609","k":0,"x":0,"y":0.14},{"material":"ZU-609","k":1,"x":0.19,"y":0.062},{"material":"ZU-609","k":2,"x":0.57,"y":-0.785},{"material":"ZU-609","k":3,"x":-0.029,"y":-0.04},{"material":"ZU-609","k":4,"x":-0.476,"y":0.155}
    ],
    "radarFrame": [
      {"k":0,"x":0,"y":1},{"k":1,"x":0.951,"y":0.309},{"k":2,"x":0.588,"y":-0.809},{"k":3,"x":-0.588,"y":-0.809},{"k":4,"x":-0.951,"y":0.309}
    ],
    "radarKey": [
      {"material":"NUM-27a","sx":-1.89,"tx":-1.721,"y":-1.334},
      {"material":"UTSA-400","sx":-0.904,"tx":-0.721,"y":-1.334},
      {"material":"Y-abtc","sx":0.184,"tx":0.353,"y":-1.334},
      {"material":"HIAM-301","sx":1.066,"tx":1.235,"y":-1.334},
      {"material":"KAUST-7","sx":-1.89,"tx":-1.721,"y":-1.687},
      {"material":"Co-gallate","sx":-0.904,"tx":-0.721,"y":-1.687},
      {"material":"NCU-20","sx":0.184,"tx":0.353,"y":-1.687},
      {"material":"ZU-609","sx":1.066,"tx":1.235,"y":-1.687}
    ],
    "caption": [
      {"line": 1, "part": "head", "text": "FIGURE\u00a0\u00a05"},
      {"line": 1, "part": "body", "text": "|\u00a0\u00a0Characterization of crystalline, along with evaluation of dynamic breakthrough performance and cycling stability of NUM-27a. (a)"},
      {"line": 2, "part": "rest", "text": "PXRD patterns of NUM-27 and NUM-27a. Dynamic breakthrough curves for equimolar C₃H₆/C₃H₈ on NUM-27a at 298 and 313 K with a total flow of"},
      {"line": 3, "part": "rest", "text": "(b) 3.5 mL min⁻¹, (c) 1.5 mL min⁻¹. (d) Cycled breakthrough experiments for equimolar C₃H₆/C₃H₈ with a total flow of 3.5 mL min⁻¹ at 298 K. (e) The"},
      {"line": 4, "part": "rest", "text": "comprehensive comparison with other MOF benchmark materials."}
    ]
  },
  "concat": [
    {
      "width": 209.5,
      "height": 167,
      "view": {"stroke": "black", "strokeWidth": 1.2},
      "layer": [
        {
          "data": {"name": "xrd"},
          "mark": {"type": "line", "strokeWidth": 1},
          "encoding": {
            "x": {"field": "theta", "type": "quantitative", "scale": {"domain": [8, 32], "nice": false, "zero": false}, "axis": {"values": [8, 16, 24, 32], "title": "2 Theta (°)", "titleFontSize": 13.5, "titlePadding": 1}},
            "y": {"field": "intensity", "type": "quantitative", "scale": {"domain": [0, 495], "nice": false}, "axis": {"labels": false, "ticks": false, "title": "Intensity (a.u.)", "titleFontSize": 13, "titlePadding": 7}},
            "color": {"field": "pattern", "type": "nominal", "scale": {"domain": ["NUM-27a", "Simulated NUM-27a", "NUM-27", "Simulated NUM-27"], "range": ["#8F8FE8", "#2424A8", "#EC9090", "#E02A2A"]}, "legend": null}
          }
        },
        {
          "data": {"name": "xrdRef"},
          "mark": {"type": "rule", "strokeDash": [3, 2.5], "strokeWidth": 1.3, "color": "black"},
          "encoding": {
            "x": {"field": "theta", "type": "quantitative"},
            "y": {"field": "intensity", "type": "quantitative"},
            "y2": {"field": "top"}
          }
        },
        {
          "data": {"name": "hkl"},
          "mark": {"type": "text", "angle": 270, "fontSize": 12},
          "encoding": {
            "x": {"field": "theta", "type": "quantitative"},
            "y": {"field": "intensity", "type": "quantitative"},
            "text": {"field": "label"}
          }
        },
        {
          "data": {"name": "xrdNames"},
          "mark": {"type": "text", "align": "right", "fontSize": 12},
          "encoding": {
            "x": {"field": "theta", "type": "quantitative"},
            "y": {"field": "intensity", "type": "quantitative"},
            "text": {"field": "label"}
          }
        },
        {
          "data": {"values": [{"theta": 2.85, "intensity": 500, "label": "(a)"}]},
          "mark": {"type": "text", "align": "left", "baseline": "middle", "fontSize": 16},
          "encoding": {
            "x": {"field": "theta", "type": "quantitative"},
            "y": {"field": "intensity", "type": "quantitative"},
            "text": {"field": "label"}
          }
        }
      ]
    },
    {
      "width": 209,
      "height": 167,
      "view": {"stroke": "black", "strokeWidth": 1.6},
      "title": {"text": "(b)", "dx": -53, "offset": -5},
      "encoding": {
        "x": {"field": "t", "type": "quantitative", "scale": {"domain": [-2.6, 61.07], "nice": false, "zero": false}, "axis": {"values": [0, 10, 20, 30, 40, 50, 60], "title": "Time (min g⁻¹)", "titlePadding": 2}},
        "y": {"field": "c", "type": "quantitative", "scale": {"domain": [-0.089, 2.025], "nice": false, "zero": false}, "axis": {"values": [0, 0.4, 0.8, 1.2, 1.6, 2], "format": ".1f", "title": "C/C₀", "titlePadding": 10}}
      },
      "layer": [
        {
          "data": {"name": "flow35"},
          "transform": [{"filter": "test(/313/, datum.series)"}],
          "mark": {"type": "line", "strokeWidth": 1.3},
          "encoding": {"stroke": {"field": "series", "type": "nominal", "scale": {"domain": ["C3H8-298", "C3H6-298", "C3H8-313", "C3H6-313"], "range": ["#E4575A", "#3B4FD8", "#F2B6B8", "#B7BEF2"]}, "legend": null}}
        },
        {
          "data": {"name": "flow35"},
          "transform": [{"filter": "test(/313/, datum.series)"}],
          "mark": {"type": "point", "shape": "circle", "size": 28, "strokeWidth": 1.2, "opacity": 1},
          "encoding": {
            "stroke": {"field": "series", "type": "nominal", "legend": null},
            "fill": {"field": "series", "type": "nominal", "scale": {"domain": ["C3H8-298", "C3H6-298", "C3H8-313", "C3H6-313"], "range": ["#F7CBCB", "#C2CAF7", "#FCE6E6", "#E4E7FB"]}, "legend": null}
          }
        },
        {
          "data": {"name": "flow35"},
          "transform": [{"filter": "test(/298/, datum.series)"}],
          "mark": {"type": "line", "strokeWidth": 1.3},
          "encoding": {"stroke": {"field": "series", "type": "nominal", "legend": null}}
        },
        {
          "data": {"name": "flow35"},
          "transform": [{"filter": "test(/298/, datum.series)"}],
          "mark": {"type": "point", "shape": "circle", "size": 28, "strokeWidth": 1.2, "opacity": 1},
          "encoding": {
            "stroke": {"field": "series", "type": "nominal", "legend": null},
            "fill": {"field": "series", "type": "nominal", "legend": null}
          }
        },
        {
          "data": {"name": "flow35Seg"},
          "mark": {"type": "rule", "strokeWidth": 1.6},
          "encoding": {"x2": {"field": "t2"}, "stroke": {"field": "series", "type": "nominal", "legend": null}}
        },
        {
          "data": {"name": "flow35Dot"},
          "mark": {"type": "point", "shape": "circle", "size": 28, "strokeWidth": 1.2, "opacity": 1},
          "encoding": {
            "stroke": {"field": "series", "type": "nominal", "legend": null},
            "fill": {"field": "series", "type": "nominal", "legend": null}
          }
        },
        {
          "data": {"values": [
            {"t": 59.1, "c": 1.9, "label": "Flow: 3.5 mL min⁻¹"}
          ]},
          "mark": {"type": "text", "align": "right", "fontSize": 12},
          "encoding": {"text": {"field": "label"}}
        },
        {
          "data": {"values": [
            {"t": 35.6, "c": 1.48, "label": "C₃H₈"},
            {"t": 35.6, "c": 0.11, "label": "C₃H₆"},
            {"t": 41.9, "c": 0.57, "label": "/"},
            {"t": 41.9, "c": 0.4, "label": "/"}
          ]},
          "mark": {"type": "text", "align": "center", "fontSize": 12},
          "encoding": {"text": {"field": "label"}}
        },
        {
          "data": {"values": [
            {"t": 50, "c": 0.57, "label": "298 K"},
            {"t": 50, "c": 0.4, "label": "313 K"}
          ]},
          "mark": {"type": "text", "align": "left", "fontSize": 12},
          "encoding": {"text": {"field": "label"}}
        }
      ]
    },
    {
      "width": 212,
      "height": 167,
      "view": {"stroke": "black", "strokeWidth": 1.6},
      "title": {"text": "(c)", "dx": -50, "offset": -5},
      "encoding": {
        "x": {"field": "t", "type": "quantitative", "scale": {"domain": [-2.8, 82.4], "nice": false, "zero": false}, "axis": {"values": [0, 20, 40, 60, 80], "title": "Time (min g⁻¹)", "titlePadding": 2}},
        "y": {"field": "c", "type": "quantitative", "scale": {"domain": [-0.089, 2.025], "nice": false, "zero": false}, "axis": {"values": [0, 0.4, 0.8, 1.2, 1.6, 2], "format": ".1f", "title": "C/C₀", "titlePadding": 2, "labelPadding": 3.5}}
      },
      "layer": [
        {
          "data": {"name": "flow15"},
          "transform": [{"filter": "datum.series == 'C3H8'"}],
          "mark": {"type": "line", "strokeWidth": 1.3},
          "encoding": {"stroke": {"field": "series", "type": "nominal", "scale": {"domain": ["C3H8", "C3H6"], "range": ["#E4575A", "#4455DD"]}, "legend": null}}
        },
        {
          "data": {"name": "flow15"},
          "transform": [{"filter": "datum.series == 'C3H8'"}],
          "mark": {"type": "point", "shape": "circle", "size": 34, "strokeWidth": 1.3, "opacity": 1},
          "encoding": {
            "stroke": {"field": "series", "type": "nominal", "legend": null},
            "fill": {"field": "series", "type": "nominal", "scale": {"domain": ["C3H8", "C3H6"], "range": ["#F7CBCB", "#C6CDF8"]}, "legend": null}
          }
        },
        {
          "data": {"name": "flow15"},
          "transform": [{"filter": "datum.series == 'C3H6'"}],
          "mark": {"type": "line", "strokeWidth": 1.3},
          "encoding": {"stroke": {"field": "series", "type": "nominal", "legend": null}}
        },
        {
          "data": {"name": "flow15"},
          "transform": [{"filter": "datum.series == 'C3H6'"}],
          "mark": {"type": "point", "shape": "circle", "size": 34, "strokeWidth": 1.3, "opacity": 1},
          "encoding": {
            "stroke": {"field": "series", "type": "nominal", "legend": null},
            "fill": {"field": "series", "type": "nominal", "legend": null}
          }
        },
        {
          "data": {"values": [
            {"t": 78.7, "c": 1.9, "label": "Flow: 1.5 mL min⁻¹"}
          ]},
          "mark": {"type": "text", "align": "right", "fontSize": 12},
          "encoding": {"text": {"field": "label"}}
        },
        {
          "data": {"values": [
            {"t": 50.3, "c": 1.52, "label": "C₃H₈"},
            {"t": 50.6, "c": 0.13, "label": "C₃H₆"}
          ]},
          "mark": {"type": "text", "align": "center", "fontSize": 12},
          "encoding": {"text": {"field": "label"}}
        }
      ]
    },
    {
      "width": 209.5,
      "height": 181,
      "encoding": {
        "x": {"field": "t", "type": "quantitative", "scale": {"domain": [-4.9, 352.4], "range": [0, 477], "nice": false, "zero": false}, "axis": {"values": [13, 73, 135, 197, 258, 320], "labelExpr": "round((datum.value + 47) / 60)", "ticks": false, "labelPadding": 7, "title": "Cycling breakthrough experiments", "titleX": 238.5, "titlePadding": 2}},
        "y": {"field": "c", "type": "quantitative", "scale": {"domain": [-0.109, 2.02], "nice": false, "zero": false}, "axis": {"values": [0, 0.4, 0.8, 1.2, 1.6, 2], "format": ".1f", "title": "C/C₀", "titlePadding": 5}}
      },
      "layer": [
        {
          "data": {"name": "cycFrame"},
          "mark": {"type": "rule", "strokeWidth": 1.8, "color": "black", "strokeCap": "square"},
          "encoding": {"x2": {"field": "t2"}, "y2": {"field": "c2"}}
        },
        {
          "data": {"name": "cycles"},
          "mark": {"type": "line", "strokeWidth": 1.2},
          "encoding": {
            "stroke": {"field": "gas", "type": "nominal", "scale": {"domain": ["C3H8", "C3H6"], "range": ["#E4575A", "#4F62E0"]}, "legend": null},
            "detail": {"field": "run"}
          }
        },
        {
          "data": {"name": "cycles"},
          "mark": {"type": "point", "shape": "circle", "size": 26, "strokeWidth": 1.2, "opacity": 1},
          "encoding": {
            "stroke": {"field": "gas", "type": "nominal", "legend": null},
            "fill": {"field": "gas", "type": "nominal", "scale": {"domain": ["C3H8", "C3H6"], "range": ["#F5C4C4", "#BFC7F6"]}, "legend": null}
          }
        },
        {
          "data": {"name": "cycArrow"},
          "mark": {"type": "rule", "strokeWidth": 1.6, "color": "#4A63D8"},
          "encoding": {"x2": {"field": "t2"}}
        },
        {
          "data": {"name": "cycHeads"},
          "mark": {"type": "point", "size": 70, "strokeWidth": 1.6, "filled": false, "color": "#8D9BEA", "opacity": 1},
          "encoding": {
            "shape": {"field": "end", "type": "nominal", "scale": {"domain": ["L", "R"], "range": ["M1,-1L-1,0L1,1", "M-1,-1L1,0L-1,1"]}, "legend": null}
          }
        },
        {
          "data": {"values": [{"t": 170.8, "c": 1.9, "label": "6 cycles"}]},
          "mark": {"type": "text", "fontSize": 12.5},
          "encoding": {"text": {"field": "label"}}
        },
        {
          "data": {"values": [{"t": -37.5, "c": 2.214, "label": "(d)"}]},
          "mark": {"type": "text", "align": "left", "baseline": "middle", "fontSize": 16},
          "encoding": {"text": {"field": "label"}}
        }
      ]
    },
    {"width": 10, "height": 10, "data": {"values": []}, "mark": "point"},
    {
      "width": 200,
      "height": 150,
      "title": {"text": "(e)", "dx": -52, "offset": 7},
      "encoding": {
        "x": {"field": "x", "type": "quantitative", "scale": {"domain": [-1.309, 1.632], "nice": false, "zero": false}, "axis": null},
        "y": {"field": "y", "type": "quantitative", "scale": {"domain": [-1.015, 1.191], "nice": false, "zero": false}, "axis": null}
      },
      "layer": [
        {
          "data": {"name": "radar"},
          "encoding": {"order": {"field": "k", "type": "quantitative"}},
          "layer": [
            {"transform": [{"filter": "datum.material == 'NUM-27a'"}], "mark": {"type": "line", "interpolate": "linear-closed", "fill": "#F4919B", "stroke": "#E0606E", "fillOpacity": 0.8, "strokeWidth": 0.8}},
            {"transform": [{"filter": "datum.material == 'HIAM-301'"}], "mark": {"type": "line", "interpolate": "linear-closed", "fill": "#E8A8E0", "stroke": "#C98ACB", "fillOpacity": 0.75, "strokeWidth": 0.8}},
            {"transform": [{"filter": "datum.material == 'UTSA-400'"}], "mark": {"type": "line", "interpolate": "linear-closed", "fill": "#A3D9F0", "stroke": "#6CB8DA", "fillOpacity": 0.75, "strokeWidth": 0.8}},
            {"transform": [{"filter": "datum.material == 'Co-gallate'"}], "mark": {"type": "line", "interpolate": "linear-closed", "fill": "#C4B4E6", "stroke": "#9D8ACB", "fillOpacity": 0.8, "strokeWidth": 0.8}},
            {"transform": [{"filter": "datum.material == 'Y-abtc'"}], "mark": {"type": "line", "interpolate": "linear-closed", "fill": "#F6C784", "stroke": "#D9A050", "fillOpacity": 0.6, "strokeWidth": 0.8}},
            {"transform": [{"filter": "datum.material == 'KAUST-7'"}], "mark": {"type": "line", "interpolate": "linear-closed", "fill": "#8FB1E3", "stroke": "#5F88C8", "fillOpacity": 0.7, "strokeWidth": 0.8}},
            {"transform": [{"filter": "datum.material == 'NCU-20'"}], "mark": {"type": "line", "interpolate": "linear-closed", "fill": "#5CE1EA", "stroke": "#2CBAC6", "fillOpacity": 0.85, "strokeWidth": 0.8}},
            {"transform": [{"filter": "datum.material == 'ZU-609'"}], "mark": {"type": "line", "interpolate": "linear-closed", "fill": "#D3E84E", "stroke": "#7D8A1E", "fillOpacity": 0.9, "strokeWidth": 0.8}}
          ]
        },
        {
          "data": {"name": "radarFrame"},
          "mark": {"type": "line", "interpolate": "linear-closed", "stroke": "black", "strokeWidth": 0.8},
          "encoding": {"order": {"field": "k", "type": "quantitative"}}
        },
        {
          "data": {"name": "radarKey"},
          "encoding": {"x": {"field": "sx", "type": "quantitative"}},
          "layer": [
            {"transform": [{"filter": "datum.material == 'NUM-27a'"}], "mark": {"type": "point", "shape": "M-1,-0.5H1V0.5H-1Z", "size": 289, "filled": true, "fill": "#F4A0AA", "stroke": "#E07080", "strokeWidth": 0.8, "opacity": 1}},
            {"transform": [{"filter": "datum.material == 'UTSA-400'"}], "mark": {"type": "point", "shape": "M-1,-0.5H1V0.5H-1Z", "size": 289, "filled": true, "fill": "#B0DDF2", "stroke": "#80BCD8", "strokeWidth": 0.8, "opacity": 1}},
            {"transform": [{"filter": "datum.material == 'Y-abtc'"}], "mark": {"type": "point", "shape": "M-1,-0.5H1V0.5H-1Z", "size": 289, "filled": true, "fill": "#F8D49A", "stroke": "#D9A860", "strokeWidth": 0.8, "opacity": 1}},
            {"transform": [{"filter": "datum.material == 'HIAM-301'"}], "mark": {"type": "point", "shape": "M-1,-0.5H1V0.5H-1Z", "size": 289, "filled": true, "fill": "#E8CCF0", "stroke": "#C8A0D8", "strokeWidth": 0.8, "opacity": 1}},
            {"transform": [{"filter": "datum.material == 'KAUST-7'"}], "mark": {"type": "point", "shape": "M-1,-0.5H1V0.5H-1Z", "size": 289, "filled": true, "fill": "#9DBDE8", "stroke": "#6E94CC", "strokeWidth": 0.8, "opacity": 1}},
            {"transform": [{"filter": "datum.material == 'Co-gallate'"}], "mark": {"type": "point", "shape": "M-1,-0.5H1V0.5H-1Z", "size": 289, "filled": true, "fill": "#D2C4EE", "stroke": "#A898D4", "strokeWidth": 0.8, "opacity": 1}},
            {"transform": [{"filter": "datum.material == 'NCU-20'"}], "mark": {"type": "point", "shape": "M-1,-0.5H1V0.5H-1Z", "size": 289, "filled": true, "fill": "#6EE4EC", "stroke": "#30BCC8", "strokeWidth": 0.8, "opacity": 1}},
            {"transform": [{"filter": "datum.material == 'ZU-609'"}], "mark": {"type": "point", "shape": "M-1,-0.5H1V0.5H-1Z", "size": 289, "filled": true, "fill": "#E2EE5A", "stroke": "#B0BE30", "strokeWidth": 0.8, "opacity": 1}}
          ]
        },
        {
          "data": {"name": "radarKey"},
          "mark": {"type": "text", "align": "left", "fontSize": 10},
          "encoding": {
            "x": {"field": "tx", "type": "quantitative"},
            "text": {"field": "material"}
          }
        },
        {
          "data": {"values": [
            {"x": -0.096, "y": 1.166, "label": "Packing density at 0.01 bar"},
            {"x": -0.92, "y": -0.985, "label": "Uptake at 0.01 bar"},
            {"x": 0.765, "y": -0.985, "label": "Stability"}
          ]},
          "mark": {"type": "text", "align": "center", "fontSize": 12},
          "encoding": {"text": {"field": "label"}}
        },
        {
          "data": {"values": [
            {"x": 1.07, "y": 0.309, "label": "Low cost"},
            {"x": -1.71, "y": 0.33, "label": "Low Qₛₜ"},
            {"x": -1.71, "y": 0.13, "label": "of C₃H₆"}
          ]},
          "mark": {"type": "text", "align": "left", "fontSize": 12},
          "encoding": {"text": {"field": "label"}}
        }
      ]
    },
    {
      "width": 200,
      "height": 42,
      "data": {"name": "caption"},
      "encoding": {
        "x": {"datum": -54.2, "type": "quantitative", "scale": {"domain": [0, 200], "nice": false, "zero": false}, "axis": null},
        "y": {"field": "line", "type": "quantitative", "scale": {"domain": [1.6226, 4.0], "reverse": true, "nice": false, "zero": false}, "axis": null},
        "text": {"field": "text"}
      },
      "layer": [
        {
          "transform": [{"filter": "datum.part == 'head'"}],
          "mark": {"type": "text", "align": "left", "font": "Liberation Serif", "fontSize": 13, "fontWeight": "bold", "color": "#222"}
        },
        {
          "transform": [{"filter": "datum.part == 'body'"}],
          "mark": {"type": "text", "align": "left", "dx": 79, "font": "Liberation Serif", "fontSize": 13, "fontWeight": "normal", "color": "#222"}
        },
        {
          "transform": [{"filter": "datum.part == 'rest'"}],
          "mark": {"type": "text", "align": "left", "font": "Liberation Serif", "fontSize": 13, "fontWeight": "normal", "color": "#222"}
        }
      ]
    }
  ],
  "config": {
    "view": {"stroke": null},
    "font": "Liberation Sans",
    "title": {"font": "Liberation Sans", "fontSize": 16, "fontWeight": "bold", "anchor": "start", "frame": "group", "color": "black"},
    "axis": {"labelFont": "Liberation Sans", "titleFont": "Liberation Sans", "labelFontWeight": "bold", "titleFontWeight": "bold", "labelColor": "black", "titleColor": "black", "tickColor": "black", "tickSize": 3, "tickWidth": 1, "domain": false, "grid": false, "labelFontSize": 12.5, "titleFontSize": 12.5, "labelPadding": 1.5},
    "text": {"font": "Liberation Sans", "fontWeight": "bold", "color": "black"}
  }
}
